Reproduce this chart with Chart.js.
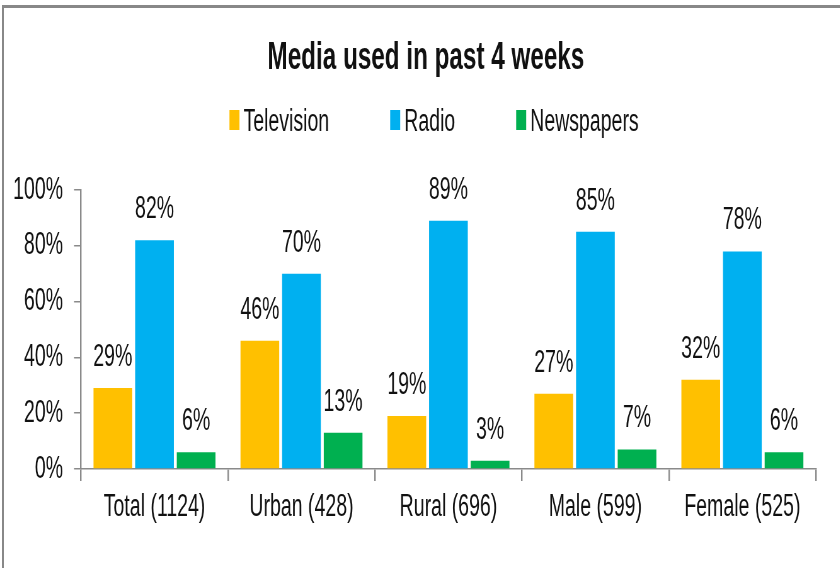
<!DOCTYPE html>
<html>
<head>
<meta charset="utf-8">
<script src="https://cdn.jsdelivr.net/npm/chart.js@4/dist/chart.umd.min.js"></script>
<style>
  html, body { margin: 0; padding: 0; background: #fff; }
  #wrap { position: relative; width: 840px; height: 568px; overflow: hidden; }
  #frame {
    position: absolute; left: 2px; top: 5px; right: -10px; bottom: -10px;
    border-top: 3px solid #888888; border-left: 2px solid #888888;
  }
  /* chart is laid out wide and squeezed horizontally for tall, narrow lettering */
  #squeeze {
    position: absolute; left: 0; top: 0; width: 1333px; height: 568px;
    transform: scaleX(0.63); transform-origin: 0 0;
  }
</style>
</head>
<body>
<div id="wrap">
  <div id="frame"></div>
  <div id="squeeze"><canvas id="c" width="1333" height="568"></canvas></div>
</div>
<script>
// Respondent groups and sample sizes
const categories = ['Total (1124)', 'Urban (428)', 'Rural (696)', 'Male (599)', 'Female (525)'];

// Share of respondents (%) using each medium in the past 4 weeks
const television = [29, 46, 19, 27, 32];
const radio      = [82, 70, 89, 85, 78];
const newspapers = [6, 13, 3, 7, 6];

const seriesNames  = ['Television', 'Radio', 'Newspapers'];
const seriesColors = ['#FFC000', '#00B0F0', '#00B050'];

const yTicks = [0, 20, 40, 60, 80, 100];

const chartTitle = 'Media used in past 4 weeks';

const FONT = "'Liberation Sans', Arial, sans-serif";
const TEXT = '#111111';
const AXIS = '#8a8a8a';
const SIZE = 31;

// Value labels above each bar
const valueLabels = {
  id: 'valueLabels',
  afterDatasetsDraw(chart) {
    const ctx = chart.ctx;
    ctx.save();
    ctx.font = SIZE + 'px ' + FONT;
    ctx.fillStyle = TEXT;
    ctx.textAlign = 'center';
    ctx.textBaseline = 'alphabetic';
    chart.data.datasets.forEach((ds, i) => {
      chart.getDatasetMeta(i).data.forEach((bar, j) => {
        ctx.fillText(ds.data[j] + '%', bar.x, bar.y - 22);
      });
    });
    ctx.restore();
  }
};

// Heading plus a compact legend (narrow swatch set close to its name)
const header = {
  id: 'header',
  afterDraw(chart, args, opts) {
    const ctx = chart.ctx;
    ctx.save();
    ctx.textBaseline = 'alphabetic';
    ctx.textAlign = 'center';
    ctx.fillStyle = TEXT;
    ctx.font = 'bold ' + opts.titleSize + 'px ' + FONT;
    ctx.fillText(opts.title, opts.titleX, opts.titleY);

    ctx.font = SIZE + 'px ' + FONT;
    ctx.textAlign = 'left';
    const items = chart.data.datasets.map(ds => ({
      text: ds.label, color: ds.backgroundColor,
      w: opts.boxWidth + opts.gap + ctx.measureText(ds.label).width
    }));
    const total = items.reduce((s, it) => s + it.w, 0) + opts.spacing * (items.length - 1);
    let x = opts.legendX - total / 2;
    items.forEach(it => {
      ctx.fillStyle = it.color;
      ctx.fillRect(x, opts.boxTop, opts.boxWidth, opts.boxHeight);
      ctx.fillStyle = TEXT;
      ctx.fillText(it.text, x + opts.boxWidth + opts.gap, opts.legendBaseline);
      x += it.w + opts.spacing;
    });
    ctx.restore();
  }
};

const datasets = [television, radio, newspapers].map((vals, i) => ({
  label: seriesNames[i],
  data: vals,
  backgroundColor: seriesColors[i],
  borderWidth: 0,
  barPercentage: 0.93,
  categoryPercentage: 0.85
}));

new Chart(document.getElementById('c'), {
  type: 'bar',
  data: { labels: categories, datasets },
  plugins: [valueLabels, header],
  options: {
    responsive: false,
    animation: false,
    devicePixelRatio: 1,
    layout: { padding: { left: 16.6, right: 38, top: 190, bottom: 35 } },
    plugins: {
      legend: { display: false },
      tooltip: { enabled: false },
      title: { display: false },
      header: {
        title: chartTitle, titleSize: 38.5, titleX: 676, titleY: 69,
        legendX: 689, legendBaseline: 131, boxTop: 110, boxWidth: 15.9, boxHeight: 20,
        gap: 6.3, spacing: 96.8
      }
    },
    scales: {
      x: {
        grid: {
          display: true, offset: true, drawOnChartArea: false,
          drawTicks: true, tickLength: 12, color: AXIS, lineWidth: 2.4
        },
        border: { display: true, color: AXIS, width: 1.5 },
        ticks: {
          color: TEXT, padding: 7.4, maxRotation: 0, autoSkip: false,
          font: { family: FONT, size: SIZE }
        }
      },
      y: {
        min: 0, max: 100,
        afterBuildTicks(scale) { scale.ticks = yTicks.map(v => ({ value: v })); },
        afterFit(scale) { scale.width = 112; },
        grid: {
          display: true, drawOnChartArea: false, drawTicks: true,
          tickLength: 11.1, color: AXIS, lineWidth: 1.5
        },
        border: { display: true, color: AXIS, width: 2.4 },
        ticks: {
          color: TEXT, padding: 17.5,
          font: { family: FONT, size: SIZE },
          callback: v => v + '%'
        }
      }
    }
  }
});
</script>
</body>
</html>
